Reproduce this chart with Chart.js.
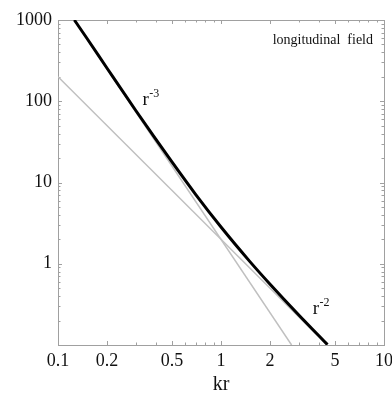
<!DOCTYPE html>
<html>
<head>
<meta charset="utf-8">
<script src="https://cdn.jsdelivr.net/npm/chart.js@4.4.1/dist/chart.umd.min.js"></script>
<style>
html,body{margin:0;padding:0;background:#fff}
#wrap{width:392px;height:394px;position:relative}
</style>
</head>
<body>
<div id="wrap"><canvas id="mainChart"></canvas></div>
<script>
// longitudinal field vs kr
const kr    = [0.126, 0.15, 0.2, 0.3, 0.4, 0.5, 0.7, 1, 1.5, 2, 3, 4, 4.5];
const field = [1000, 600, 255, 77, 33.7, 17.9, 7.1, 2.83, 1.07, 0.56, 0.234, 0.129, 0.101];
// asymptotes
const r3x = [0.126, 2.71];
const r3y = [1000, 0.1];
const r2x = [0.1, 4.47];
const r2y = [200, 0.1];
// ticks
const xTicks  = [0.1, 0.2, 0.5, 1, 2, 5, 10];
const yTicks  = [0.1, 1, 10, 100, 1000];
const yLabels = ['', '1', '10', '100', '1000'];

function pts(xs, ys){ return xs.map((x,i)=>({x:x, y:ys[i]})); }

const serif = "'Liberation Serif','DejaVu Serif',serif";

const framePlugin = {
  id:'frame',
  beforeDatasetsDraw(chart){
    const ctx=chart.ctx, a=chart.chartArea;
    const xs=chart.scales.x, ys=chart.scales.y;
    ctx.save();
    ctx.strokeStyle='#a0a0a0';
    ctx.lineWidth=1;
    ctx.strokeRect(Math.round(a.left)+0.5, Math.round(a.top)+0.5, Math.round(a.right-a.left), Math.round(a.bottom-a.top));
    ctx.beginPath();
    // minor ticks along x
    for(let d=0.1; d<10; d*=10){
      for(let m=1; m<10; m++){
        const v=d*m;
        const px=Math.round(xs.getPixelForValue(v))+0.5;
        const len = (m===1||m===2||m===5)?4:2.5;
        ctx.moveTo(px,a.bottom); ctx.lineTo(px,a.bottom-len);
        ctx.moveTo(px,a.top); ctx.lineTo(px,a.top+len);
      }
    }
    // minor ticks along y
    for(let d=0.1; d<1000; d*=10){
      for(let m=1; m<10; m++){
        const v=d*m;
        const py=Math.round(ys.getPixelForValue(v))+0.5;
        const len = (m===1)?4:2.5;
        ctx.moveTo(a.left,py); ctx.lineTo(a.left+len,py);
        ctx.moveTo(a.right,py); ctx.lineTo(a.right-len,py);
      }
    }
    ctx.stroke();
    ctx.restore();
  },
  afterDraw(chart){
    const ctx=chart.ctx, a=chart.chartArea;
    const xs=chart.scales.x, ys=chart.scales.y;
    ctx.save();
    ctx.fillStyle='#111';
    ctx.textBaseline='alphabetic';
    // curve labels
    function power(txt, sup, xv, yv){
      const px=xs.getPixelForValue(xv), py=ys.getPixelForValue(yv);
      ctx.font='19px '+serif;
      ctx.textAlign='left';
      ctx.fillText(txt, px, py);
      const w=ctx.measureText(txt).width;
      ctx.font='12px '+serif;
      ctx.fillText(sup, px+w+0.5, py-8);
    }
    power('r','-3', 0.33, 90);
    power('r','-2', 3.65, 0.24);
    ctx.font='14px '+serif;
    ctx.textAlign='right';
    ctx.fillText('longitudinal  field', a.right-11, a.top+24);
    ctx.restore();
  }
};

const ctx = document.getElementById('mainChart').getContext('2d');
window.myChart = new Chart(ctx, {
  type:'line',
  data:{
    datasets:[
      {
        label:'field',
        data:pts(kr, field),
        borderColor:'#000',
        borderWidth:3,
        pointRadius:0,
        cubicInterpolationMode:'monotone'
      },
      {
        label:'r-3',
        data:pts(r3x, r3y),
        borderColor:'#c0c0c0',
        borderWidth:1.5,
        pointRadius:0
      },
      {
        label:'r-2',
        data:pts(r2x, r2y),
        borderColor:'#c0c0c0',
        borderWidth:1.5,
        pointRadius:0
      }
    ]
  },
  options:{
    responsive:true,
    maintainAspectRatio:false,
    animation:false,
    layout:{padding:{top:20, right:0, left:0, bottom:0}},
    plugins:{legend:{display:false}, tooltip:{enabled:false}},
    scales:{
      x:{
        type:'logarithmic',
        min:0.1, max:10,
        afterBuildTicks: s => { s.ticks = xTicks.map(v=>({value:v})); },
        afterFit: s => { s.height = 49; s.paddingRight = 8; s.paddingLeft = 0; },
        grid:{display:false, drawTicks:false},
        border:{display:false},
        ticks:{
          color:'#111',
          padding:5,
          maxRotation:0,
          autoSkip:false,
          font:{family:serif, size:18},
          callback: v => String(v)
        },
        title:{display:true, text:'kr', color:'#111', font:{family:serif, size:20}, padding:{top:4,bottom:-3}}
      },
      y:{
        type:'logarithmic',
        min:0.1, max:1000,
        afterBuildTicks: s => { s.ticks = yTicks.map(v=>({value:v})); },
        afterFit: s => { s.width = 58; },
        grid:{display:false, drawTicks:false},
        border:{display:false},
        ticks:{
          color:'#111',
          padding:6,
          autoSkip:false,
          font:{family:serif, size:18},
          callback: (v,i) => yLabels[yTicks.indexOf(v)] ?? ''
        }
      }
    }
  },
  plugins:[framePlugin]
});
</script>
</body>
</html>
